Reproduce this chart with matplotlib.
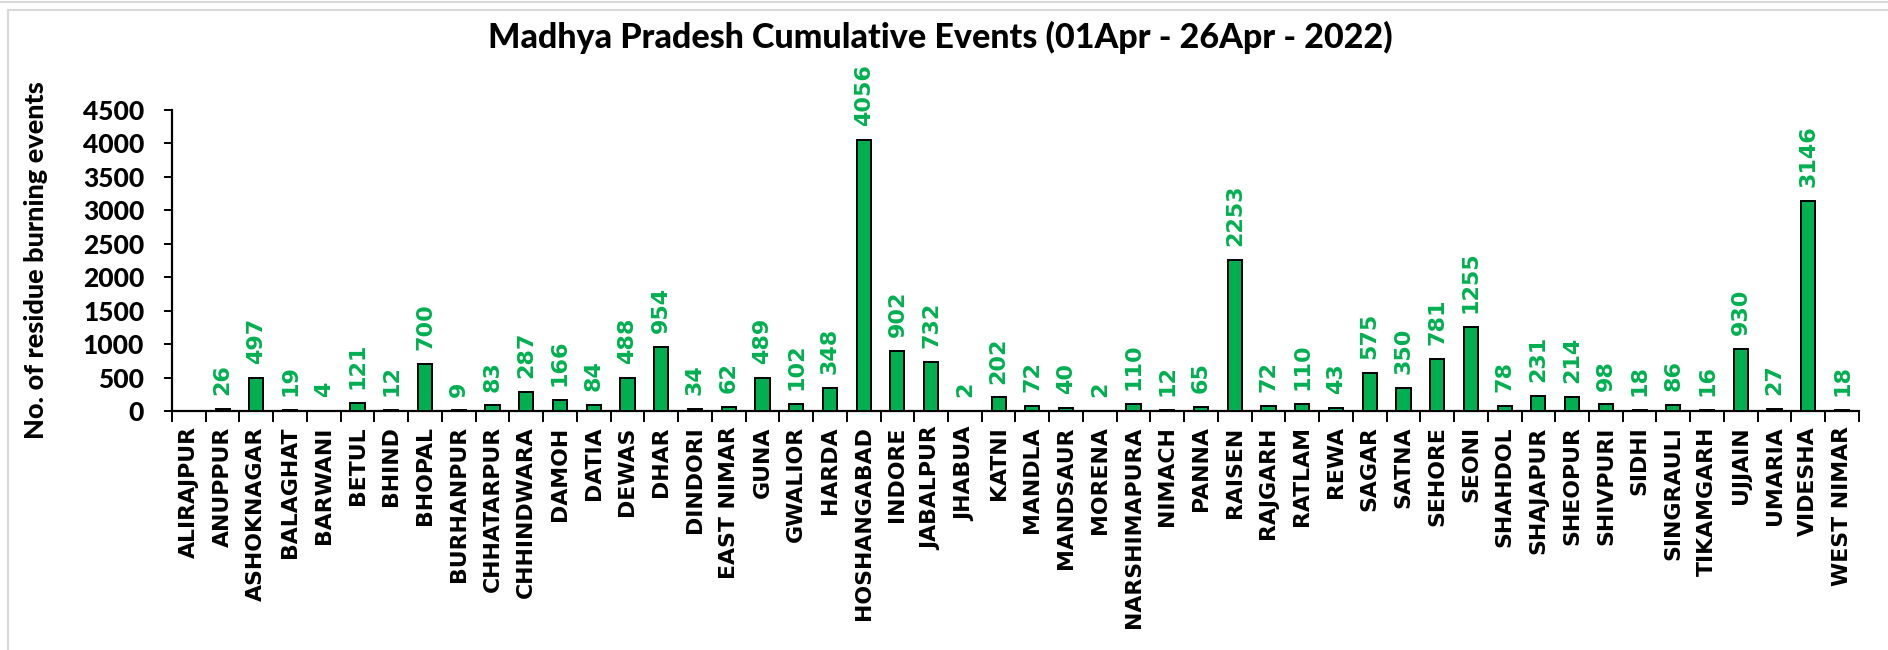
import matplotlib.pyplot as plt
import numpy as np
from matplotlib.lines import Line2D

# district wise events, 01 Apr - 26 Apr 2022
districts = ["ALIRAJPUR", "ANUPPUR", "ASHOKNAGAR", "BALAGHAT", "BARWANI", "BETUL",
             "BHIND", "BHOPAL", "BURHANPUR", "CHHATARPUR", "CHHINDWARA", "DAMOH",
             "DATIA", "DEWAS", "DHAR", "DINDORI", "EAST NIMAR", "GUNA", "GWALIOR",
             "HARDA", "HOSHANGABAD", "INDORE", "JABALPUR", "JHABUA", "KATNI",
             "MANDLA", "MANDSAUR", "MORENA", "NARSHIMAPURA", "NIMACH", "PANNA",
             "RAISEN", "RAJGARH", "RATLAM", "REWA", "SAGAR", "SATNA", "SEHORE",
             "SEONI", "SHAHDOL", "SHAJAPUR", "SHEOPUR", "SHIVPURI", "SIDHI",
             "SINGRAULI", "TIKAMGARH", "UJJAIN", "UMARIA", "VIDESHA", "WEST NIMAR"]
events = [0, 26, 497, 19, 4, 121, 12, 700, 9, 83, 287, 166, 84, 488, 954, 34, 62,
          489, 102, 348, 4056, 902, 732, 2, 202, 72, 40, 2, 110, 12, 65, 2253, 72,
          110, 43, 575, 350, 781, 1255, 78, 231, 214, 98, 18, 86, 16, 930, 27, 3146, 18]
yticks = [0, 500, 1000, 1500, 2000, 2500, 3000, 3500, 4000, 4500]

green = '#00B050'
head_font = 'Lato'
head_weight = 'black'

fig = plt.figure(figsize=(18.88, 6.5), dpi=100)
ax = fig.add_axes([0.0911, 0.3677, 0.8935, 0.4631])

x = np.arange(len(districts))
ax.bar(x, events, width=0.42, color=green, edgecolor='black', linewidth=1.4, zorder=3)

# labels above bars (no label for zero)
for xi, v in zip(x, events):
    if v == 0:
        continue
    ax.annotate(str(v), (xi, v), xytext=(0, 10), textcoords='offset points',
                rotation=90, ha='center', va='bottom', color=green,
                fontsize=16, fontweight='bold', family='DejaVu Sans')

ax.set_xlim(-0.5, len(districts) - 0.5)
ax.set_ylim(0, 4500)
ax.set_yticks(yticks)
ax.set_yticklabels([str(t) for t in yticks], fontsize=19, fontweight=head_weight, family=head_font)
ax.tick_params(axis='y', length=6, width=1.4, pad=14)

# category labels centred, tick marks on category boundaries
ax.set_xticks(x)
ax.set_xticklabels(districts, rotation=90, fontsize=15.8, fontweight='bold', family='DejaVu Sans')
ax.tick_params(axis='x', which='major', length=0, pad=11)
ax.set_xticks(np.arange(len(districts) + 1) - 0.5, minor=True)
ax.tick_params(axis='x', which='minor', length=8, width=1.4)

for s in ['top', 'right']:
    ax.spines[s].set_visible(False)
for s in ['left', 'bottom']:
    ax.spines[s].set_linewidth(1.6)

ax.set_ylabel('No. of residue burning events', fontsize=19.5, fontweight=head_weight,
              family=head_font, labelpad=25)
fig.text(0.498, 0.942, 'Madhya Pradesh Cumulative Events (01Apr - 26Apr - 2022)',
         ha='center', va='center', fontsize=24.5, fontweight=head_weight, family=head_font)

# chart frame from the screenshot
fig.add_artist(Line2D([0, 1], [1 - 2 / 650, 1 - 2 / 650], color='#d9d9d9', lw=1.5, transform=fig.transFigure))
fig.add_artist(Line2D([8 / 1888, 1], [1 - 10 / 650, 1 - 10 / 650], color='#d9d9d9', lw=1.5, transform=fig.transFigure))
fig.add_artist(Line2D([8 / 1888, 8 / 1888], [0, 1 - 10 / 650], color='#d9d9d9', lw=1.5, transform=fig.transFigure))

fig.savefig('out.png', dpi=100)
